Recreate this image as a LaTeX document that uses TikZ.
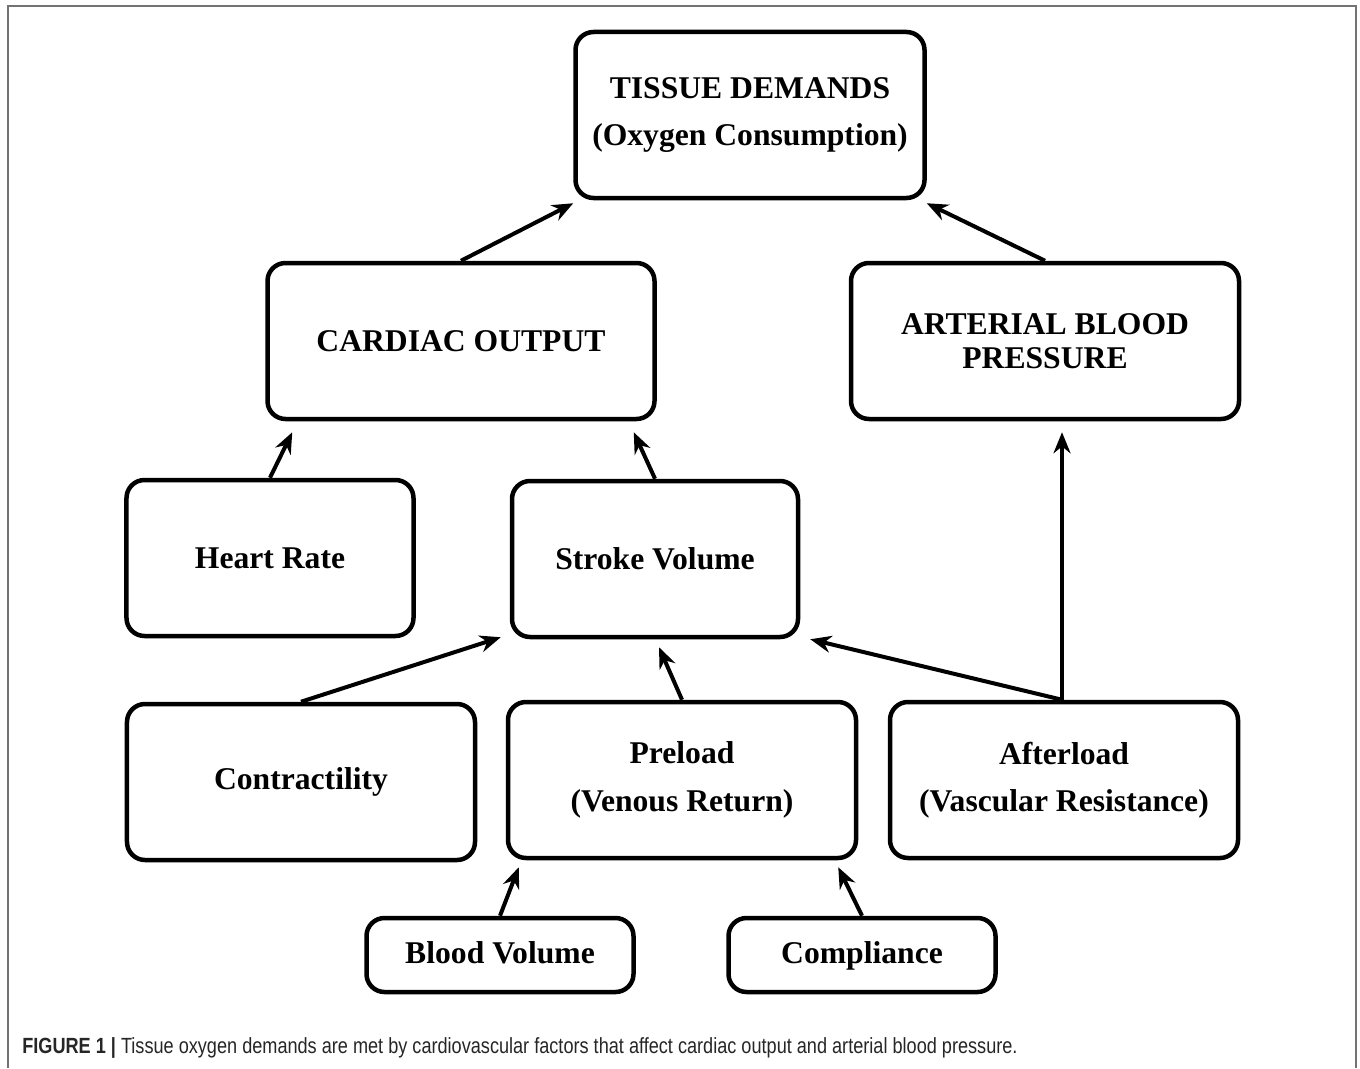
\documentclass[tikz,border=0pt]{standalone}
\usepackage{fontspec}
\setmainfont{Liberation Serif}
\newfontfamily\capfont{Liberation Sans}
\usepackage{tikz}
\usetikzlibrary{
  arrows.meta,
  positioning,
  calc
}

\begin{document}
\begin{tikzpicture}[
    x=0.2mm, y=-0.2mm,
    factor/.style={
      rectangle, rounded corners=3.6mm, draw=black, line width=0.9mm,
      fill=white, minimum width=#1, minimum height=31.2mm,
      align=center, inner sep=2pt,
      font=\fontsize{18}{27}\selectfont\bfseries
    },
    factor/.default=69.6mm,
    small/.style={minimum height=14.8mm, text height=13pt, text depth=3pt},
    arr/.style={-{Stealth[length=4.2mm, width=3.4mm]}, line width=0.8mm},
  ]
  \useasboundingbox (0,0) rectangle (1360,1068);
  \draw[line width=0.4mm, black!55] (8,1068) -- (8,6) -- (1356,6) -- (1356,1068);

  %% --- Top level ---
  \node[factor=69.8mm, minimum height=33.2mm] (tissue) at (750,115)
    {TISSUE DEMANDS\\(Oxygen Consumption)};
  \node[factor=77.4mm] (cardiac)  at (461,341) {CARDIAC OUTPUT};
  \node[factor=77.6mm, font=\fontsize{18}{19.5}\selectfont\bfseries] (arterial) at (1045,341)
    {ARTERIAL BLOOD\\PRESSURE};

  %% --- Heart factors ---
  \node[factor=57.4mm] (heart)  at (270,558) {Heart Rate};
  \node[factor=57.2mm] (stroke) at (655,559) {Stroke Volume};

  %% --- Stroke volume factors ---
  \node[factor]  (contract)  at (301,782) {Contractility};
  \node[factor]  (preload)   at (682,780) {Preload\\(Venous Return)};
  \node[factor]  (afterload) at (1064,780) {Afterload\\(Vascular Resistance)};

  %% --- Preload factors ---
  \node[factor=53.4mm, small] (blood)  at (500,955) {Blood Volume};
  \node[factor=53.4mm, small] (compl)  at (862,955) {Compliance};

  \draw[arr] (cardiac.north)  -- ([yshift=-0.6mm]tissue.south west);
  \draw[arr] (arterial.north) -- ([yshift=-0.6mm]tissue.south east);
  \draw[arr] (heart.north)    -- ([xshift=5.4mm, yshift=-2.2mm]cardiac.south west);
  \draw[arr] (stroke.north)   -- ([xshift=-4.6mm, yshift=-2.2mm]cardiac.south east);
  \draw[arr] (contract.north) -- ([xshift=-1.8mm, yshift=0.4mm]stroke.south west);
  \draw[arr] (preload.north)  -- ([xshift=0.8mm, yshift=-1.6mm]stroke.south);
  \draw[arr] ([xshift=-0.4mm]afterload.north) -- ([xshift=2mm]stroke.south east);
  \draw[arr] ([xshift=-0.4mm]afterload.north) -- ($(afterload.north |- arterial.south)+(-2,11)$);
  \draw[arr] (blood.north)    -- ([xshift=2.6mm, yshift=-1.4mm]preload.south west);
  \draw[arr] (compl.north)    -- ([xshift=-4mm, yshift=-1.4mm]preload.south east);

  \node[anchor=west, inner sep=0pt, text=black!85,
    font=\capfont\fontsize{12.5}{15}\selectfont] (caption) at (22,1048)
    {\scalebox{0.825}[1]{\textbf{FIGURE 1 |} Tissue oxygen demands are met by cardiovascular factors that affect cardiac output and arterial blood pressure.}};
\end{tikzpicture}
\end{document}
